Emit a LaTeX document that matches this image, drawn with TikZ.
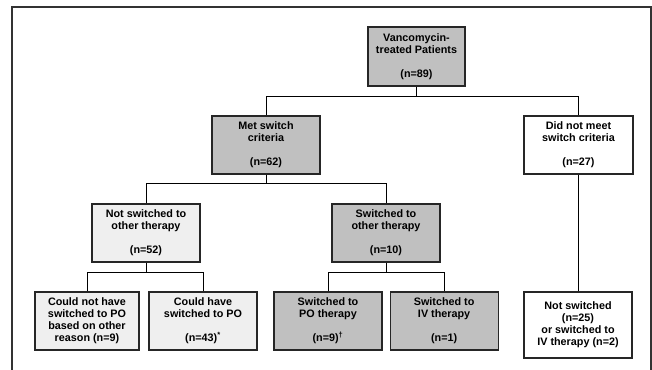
\documentclass[tikz,border=0pt]{standalone}
\usepackage{fontspec}
\setmainfont{Liberation Sans}
\usetikzlibrary{positioning}
\definecolor{boxgray}{HTML}{C0C0C0}
\definecolor{boxlight}{HTML}{EFEFEF}
\definecolor{boxedge}{HTML}{262626}
\definecolor{framegray}{HTML}{333333}

\begin{document}
\begin{tikzpicture}[
    x=1pt, y=-1pt,
    flowbox/.style={
        rectangle, draw=boxedge, line width=1.1pt,
        minimum width=108pt, minimum height=58pt, inner sep=0pt,
        font=\fontsize{10.8}{12}\selectfont\bfseries,
        text=black, align=center
    },
    grayb/.style={flowbox, fill=boxgray},
    lightb/.style={flowbox, fill=boxlight},
    whiteb/.style={flowbox, fill=white},
    conn/.style={draw=black, line width=0.9pt}
]
\useasboundingbox (0,0) rectangle (652,369);
\draw[framegray, line width=1.4pt] (12,372) -- (12,7) -- (651,7) -- (651,372);

% --- Level 0 ---
\node[grayb, minimum width=97pt, minimum height=59pt] (vanco) at (416.5,56.5)
      {Vancomycin-\\treated Patients\\[12pt](n=89)};

% --- Level 1 ---
\node[grayb] (met) at (266,145) {Met switch\\criteria\\[12pt](n=62)};
\node[whiteb, minimum width=109pt] (nomeet) at (578.5,145)
      {Did not meet\\switch criteria\\[12pt](n=27)};

% --- Level 2 ---
\node[lightb] (notsw) at (146,233) {Not switched to\\other therapy\\[12pt](n=52)};
\node[grayb] (sw) at (386,233) {Switched to\\other therapy\\[12pt](n=10)};

% --- Level 3 ---
\node[lightb, minimum width=104pt] (couldnot) at (87,321)
      {Could not have\\switched to PO\\based on other\\reason (n=9)};
\node[lightb] (could) at (203,321) {Could have\\switched to PO\\[12pt](n=43)\textsuperscript{*}};
\node[grayb] (po) at (328,321) {Switched to\\PO therapy\\[12pt](n=9)\textsuperscript{†}};
\node[grayb, right=7pt of po] (iv) {Switched to\\IV therapy\\[12pt](n=1)};
\node[whiteb, minimum height=66pt] (stay) at (578,325)
      {Not switched\\(n=25)\\or switched to\\IV therapy (n=2)};

% --- Connectors ---
\coordinate (j0) at (0,96);
\coordinate (j1) at (0,183);
\coordinate (j2) at (0,272);
\draw[conn] (vanco.south) -- (vanco.south |- j0);
\draw[conn] (met.north) |- (nomeet.north |- j0) -- (nomeet.north);
\draw[conn] (met.south) -- (met.south |- j1);
\draw[conn] (notsw.north) |- (sw.north |- j1) -- (sw.north);
\draw[conn] (notsw.south) -- (notsw.south |- j2);
\draw[conn] (couldnot.north) |- (could.north |- j2) -- (could.north);
\draw[conn] (sw.south) -- (sw.south |- j2);
\draw[conn] (po.north) |- (iv.north |- j2) -- (iv.north);
\draw[conn] (nomeet.south) -- (nomeet.south |- stay.north);
\end{tikzpicture}
\end{document}
